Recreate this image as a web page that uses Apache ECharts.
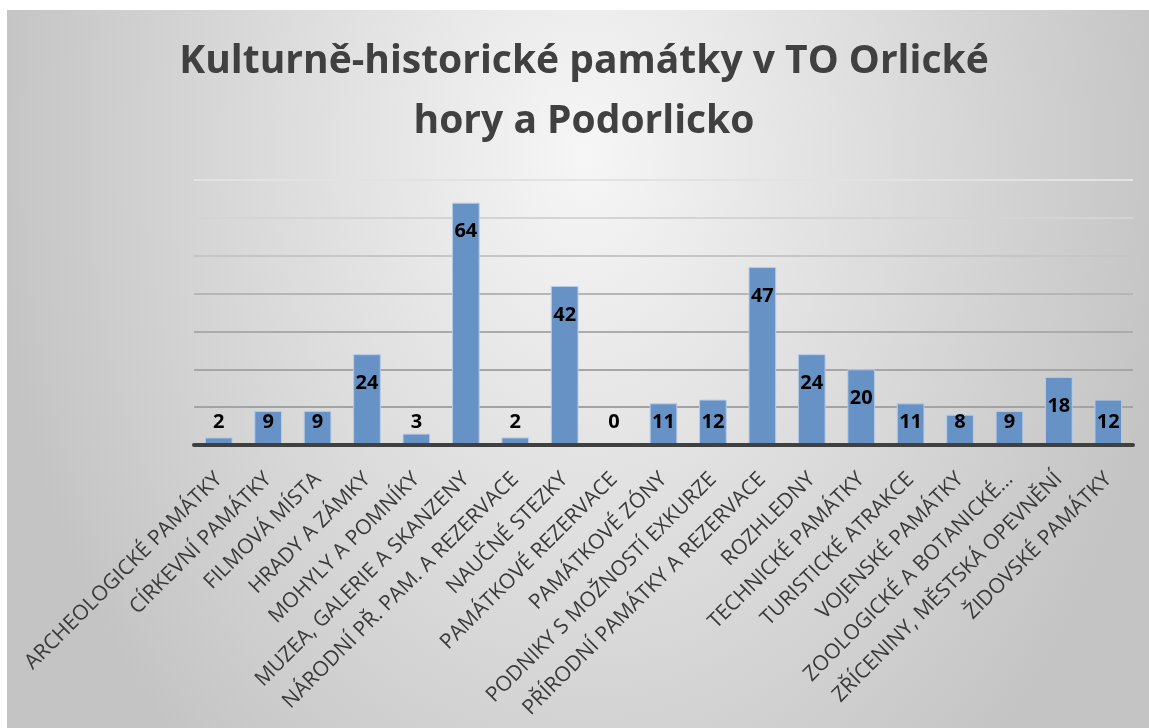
<!DOCTYPE html>
<html>
<head>
<meta charset="utf-8">
<title>Kulturně-historické památky v TO Orlické hory a Podorlicko</title>
<script src="https://cdn.jsdelivr.net/npm/echarts@6/dist/echarts.min.js"></script>
<style>
  html, body { margin: 0; padding: 0; background: #fff; }
  #chart {
    position: absolute;
    left: 7px;
    top: 10px;
    width: 1142px;
    height: 718px;
    background: radial-gradient(ellipse 52% 114% at 50.6% 20%, #f6f6f6 0%, #c4c4c4 100%);
  }
</style>
</head>
<body>
<div id="chart"></div>
<script>
const categories = [
  'ARCHEOLOGICKÉ PAMÁTKY',
  'CÍRKEVNÍ PAMÁTKY',
  'FILMOVÁ MÍSTA',
  'HRADY A ZÁMKY',
  'MOHYLY A POMNÍKY',
  'MUZEA, GALERIE A SKANZENY',
  'NÁRODNÍ PŘ. PAM. A REZERVACE',
  'NAUČNÉ STEZKY',
  'PAMÁTKOVÉ REZERVACE',
  'PAMÁTKOVÉ ZÓNY',
  'PODNIKY S MOŽNOSTÍ EXKURZE',
  'PŘÍRODNÍ PAMÁTKY A REZERVACE',
  'ROZHLEDNY',
  'TECHNICKÉ PAMÁTKY',
  'TURISTICKÉ ATRAKCE',
  'VOJENSKÉ PAMÁTKY',
  'ZOOLOGICKÉ A BOTANICKÉ…',
  'ZŘÍCENINY, MĚSTSKÁ OPEVNĚNÍ',
  'ŽIDOVSKÉ PAMÁTKY'
]
const counts = [2, 9, 9, 24, 3, 64, 2, 42, 0, 11, 12, 47, 24, 20, 11, 8, 9, 18, 12]
const yTicks = [0, 10, 20, 30, 40, 50, 60, 70]

// gridlines fade out towards the top
const gridColors = ['#9c9c9c', '#a3a3a3', '#a6a6a6', '#ababab', '#b6b6b6', '#c6c6c6', '#d4d4d4', '#e2e2e2']

// short bars get their label parked just above the axis, like Excel does
const LABEL_CLAMP = 14

const barData = counts.map(v => ({
  value: v,
  label: v >= LABEL_CLAMP
    ? { position: 'insideTop', distance: 19 }
    : { position: 'insideBottom', distance: 13 }
}))

const chart = echarts.init(document.getElementById('chart'))
chart.setOption({
  backgroundColor: 'transparent',
  animation: false,
  title: {
    text: 'Kulturně-historické památky v TO Orlické\nhory a Podorlicko',
    left: 572,
    top: 17,
    textAlign: 'center',
    textStyle: {
      fontFamily: 'Open Sans',
      fontWeight: 'bold',
      fontSize: 39,
      lineHeight: 60,
      color: '#404040'
    }
  },
  grid: { left: 187, right: 16, top: 170, bottom: 283 },
  xAxis: {
    type: 'category',
    data: categories,
    z: 3,
    axisLine: { lineStyle: { color: '#404040', width: 4 } },
    axisTick: { show: false },
    axisLabel: {
      interval: 0,
      rotate: 45,
      margin: 31,
      color: '#3a3a3a',
      fontFamily: 'Open Sans',
      fontSize: 21
    }
  },
  yAxis: {
    type: 'value',
    min: yTicks[0],
    max: yTicks[yTicks.length - 1],
    interval: yTicks[1] - yTicks[0],
    axisLabel: { show: false },
    axisLine: { show: false },
    axisTick: { show: false },
    splitLine: { lineStyle: { color: gridColors, width: 2 } }
  },
  series: [{
    type: 'bar',
    data: barData,
    barWidth: '56%',
    itemStyle: {
      color: '#6792c6',
      borderColor: '#b7cbe6',
      borderWidth: 1
    },
    label: {
      show: true,
      color: '#000',
      fontFamily: 'Open Sans',
      fontWeight: 'bold',
      fontSize: 20
    }
  }]
})
</script>
</body>
</html>
